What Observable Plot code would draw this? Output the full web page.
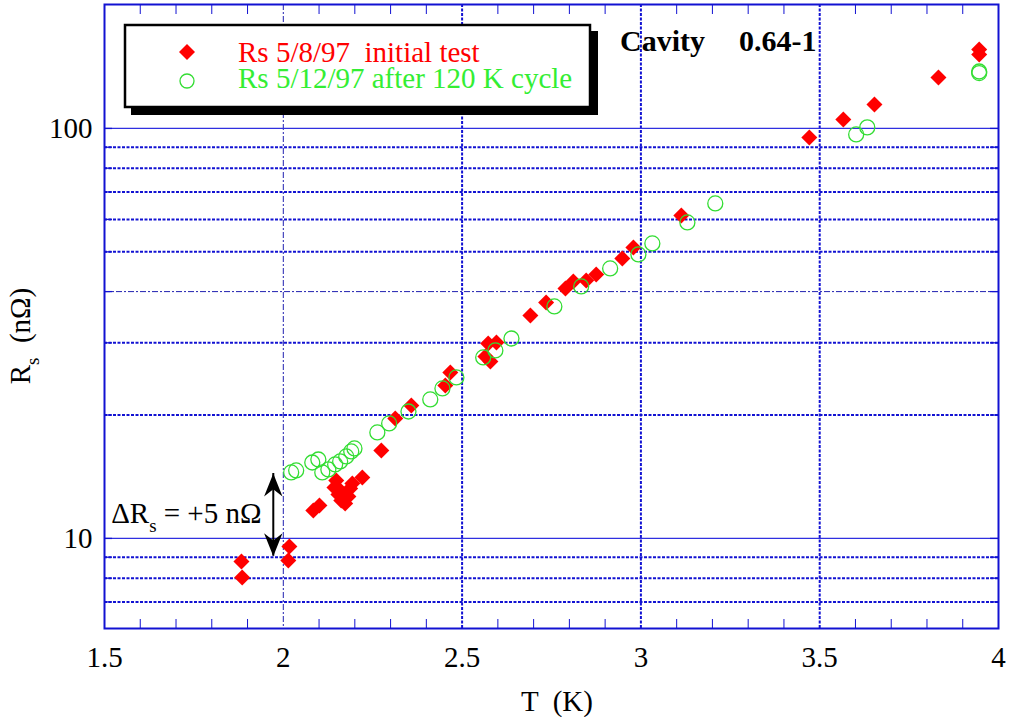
<!DOCTYPE html>
<html><head><meta charset="utf-8">
<script src="https://cdn.jsdelivr.net/npm/d3@7"></script>
<script src="https://cdn.jsdelivr.net/npm/@observablehq/plot@0.6"></script>
<style>
body{margin:0;background:#fff;}
#chart{width:1013px;height:717px;}
</style></head><body><div id="chart"></div>
<script>
// ---- data ----
const initialT = [1.883,1.885,2.017,2.014,2.084,2.101,2.148,2.143,2.154,2.162,2.173,2.182,2.187,2.193,2.159,2.221,2.274,2.313,2.358,2.453,2.467,2.573,2.596,2.565,2.579,2.691,2.735,2.789,2.811,2.847,2.875,2.948,2.979,3.113,3.471,3.566,3.653,3.832,3.946,3.946];
const initialR = [8.79,8.03,9.56,8.84,11.70,12.04,13.85,13.32,12.80,12.38,12.17,12.66,13.24,13.62,13.09,14.09,16.39,19.62,21.11,23.62,25.41,29.89,30.06,27.79,27.02,34.99,37.63,40.71,42.35,42.58,44.04,48.19,51.27,61.34,95.07,105.2,114.4,133.2,155.8,151.5];
const cycledT = [2.022,2.036,2.081,2.098,2.109,2.126,2.145,2.159,2.176,2.190,2.199,2.263,2.296,2.350,2.411,2.445,2.484,2.559,2.593,2.638,2.758,2.833,2.914,2.993,3.032,3.130,3.208,3.602,3.633,3.946,3.946];
const cycledR = [14.49,14.65,15.32,15.58,14.49,14.73,15.15,15.41,15.85,16.30,16.58,18.14,19.08,20.40,21.83,23.22,24.70,27.64,28.74,30.74,36.81,41.17,45.55,49.28,52.43,58.99,65.63,96.7,100.6,137.7,136.5];
const seriesNames = ["Rs 5/8/97  initial test", "Rs 5/12/97 after 120 K cycle"];
const xTickLabels = [1.5,2,2.5,3,3.5,4];
const yTickLabels = [10,100];
const xMinorTicks = [1.6,1.7,1.8,1.9,2.1,2.2,2.3,2.4,2.6,2.7,2.8,2.9,3.1,3.2,3.3,3.4,3.6,3.7,3.8,3.9];
const yTicks = [7,8,9,10,20,30,40,50,60,70,80,90,100];
const gridSolidY = [10,100];
const gridDottedY = [7,8,9,20,30,50,60,70,80,90];
const gridThinY = [40];
const gridDottedX = [2.5,3,3.5];
const gridThinX = [2];
const annotT = [1.972];
const annotR = [9.05,14.4];
const annotText = ["ΔR","s"," = +5 nΩ"];
const titleText = ["Cavity","0.64-1"];
const xLabel = "T  (K)";
const yLabel = ["R","s","  (nΩ)"];

// ---- build ----
const FONT = '"Liberation Serif", Tinos, "Times New Roman", "DejaVu Serif", serif';
const W=1013,H=717,mL=104,mR=15,mT=4,mB=89;
const innerW=W-mL-mR, innerH=H-mT-mB;
const blue="#1212d2", red="#ff0000", green="#33dd33";
const initial = initialT.map((t,i)=>({T:t,R:initialR[i]}));
const cycled = cycledT.map((t,i)=>({T:t,R:cycledR[i]}));
const diamond = {draw(ctx,size){const h=Math.sqrt(size/Math.PI);ctx.moveTo(0,-h);ctx.lineTo(h,0);ctx.lineTo(0,h);ctx.lineTo(-h,0);ctx.closePath();}};
const headUp = {draw(ctx,size){const s=Math.sqrt(size/Math.PI);ctx.moveTo(0,0);ctx.lineTo(0.4*s,s);ctx.lineTo(0,0.68*s);ctx.lineTo(-0.4*s,s);ctx.closePath();}};
const headDown = {draw(ctx,size){const s=Math.sqrt(size/Math.PI);ctx.moveTo(0,0);ctx.lineTo(0.4*s,-s);ctx.lineTo(0,-0.68*s);ctx.lineTo(-0.4*s,-s);ctx.closePath();}};
const F = 29;

const chart = Plot.plot({
  width:W,height:H,marginLeft:mL,marginRight:mR,marginTop:mT,marginBottom:mB,
  style:{fontFamily:FONT,background:"#fff",color:"#000"},
  x:{domain:[1.5,4]},
  y:{type:"log",domain:[6.03,200.6]},
  marks:[
    Plot.ruleY(gridDottedY,{stroke:blue,strokeWidth:2,strokeDasharray:"3,1.5"}),
    Plot.ruleX(gridDottedX,{stroke:blue,strokeWidth:2,strokeDasharray:"3,1.5"}),
    Plot.ruleY(gridThinY,{stroke:"#2020b0",strokeWidth:1,strokeDasharray:"6,2,2,2"}),
    Plot.ruleX(gridThinX,{stroke:"#2020b0",strokeWidth:1,strokeDasharray:"6,2,2,2"}),
    Plot.ruleY(gridSolidY,{stroke:"#3030e0",strokeWidth:1.3}),
    Plot.ruleX(xMinorTicks,{stroke:blue,strokeWidth:1,insetTop:innerH-9}),
    Plot.ruleX(xMinorTicks,{stroke:blue,strokeWidth:1,insetBottom:innerH-10}),
    Plot.ruleY(yTicks,{stroke:blue,strokeWidth:1.3,insetRight:innerW-8}),
    Plot.ruleY(yTicks,{stroke:blue,strokeWidth:1.3,insetLeft:innerW-8}),
    Plot.frame({stroke:blue,strokeWidth:2}),
    Plot.axisX({ticks:xTickLabels,tickSize:0,tickPadding:18,fontSize:F,fontFamily:FONT,tickFormat:d=>String(d),label:null}),
    Plot.axisY({ticks:yTickLabels,tickSize:0,tickPadding:12,fontSize:F,fontFamily:FONT,tickFormat:d=>String(d),label:null}),
    Plot.dot(initial,{x:"T",y:"R",symbol:diamond,r:8,fill:red,stroke:"none"}),
    Plot.dot(cycled,{x:"T",y:"R",r:7.5,fill:"none",stroke:green,strokeWidth:1.3}),
    Plot.ruleX(annotT,{y1:annotR[0],y2:annotR[1],stroke:"#000",strokeWidth:2}),
    Plot.dot(annotT,{x:d=>d,y:annotR[1],symbol:headUp,r:23,fill:"#000",stroke:"none"}),
    Plot.dot(annotT,{x:d=>d,y:annotR[0],symbol:headDown,r:23,fill:"#000",stroke:"none"})
  ]
});
document.getElementById("chart").appendChild(chart);
const svg = d3.select(chart);
svg.attr("font-family",FONT);
const xs = chart.scale("x"), ys = chart.scale("y");

// annotation text
const at = svg.append("text").attr("x",xs.apply(1.52)).attr("y",ys.apply(10.88)).attr("text-anchor","start").attr("font-family",FONT).attr("font-size",F).attr("fill","#000");
at.append("tspan").text(annotText[0]);
at.append("tspan").attr("font-size",F*0.65).attr("dy",9).text(annotText[1]);
at.append("tspan").attr("dy",-9).text(annotText[2]);

// axis labels
svg.append("text").attr("x",(mL+W-mR)/2+6).attr("y",711).attr("text-anchor","middle").attr("font-family",FONT).attr("font-size",F).text(xLabel);
const yl = svg.append("text").attr("transform","translate(30,336) rotate(-90)").attr("text-anchor","middle").attr("font-family",FONT).attr("font-size",F);
yl.append("tspan").text(yLabel[0]);
yl.append("tspan").attr("font-size",F*0.65).attr("dy",9).text(yLabel[1]);
yl.append("tspan").attr("dy",-9).text(yLabel[2]);

// title
const tt = svg.append("text").attr("y",51).attr("text-anchor","start").attr("font-family",FONT).attr("font-size",30).attr("font-weight","bold");
tt.append("tspan").attr("x",620).text(titleText[0]);
tt.append("tspan").attr("x",739).text(titleText[1]);

// legend
const lg = svg.append("g");
lg.append("rect").attr("x",131).attr("y",31).attr("width",467).attr("height",84).attr("fill","#000");
lg.append("rect").attr("x",125).attr("y",25).attr("width",465).attr("height",82).attr("fill","#fff").attr("stroke","#000").attr("stroke-width",2.5);
lg.append("path").attr("d","M187,44L195,52L187,60L179,52Z").attr("fill",red);
lg.append("circle").attr("cx",187).attr("cy",81).attr("r",7).attr("fill","none").attr("stroke",green).attr("stroke-width",1.3);
lg.append("text").attr("x",238).attr("y",62).attr("text-anchor","start").attr("font-family",FONT).attr("font-size",F).attr("fill",red).text(seriesNames[0]);
lg.append("text").attr("x",238).attr("y",88).attr("text-anchor","start").attr("font-family",FONT).attr("font-size",F).attr("fill","#33ee33").text(seriesNames[1]);
</script></body></html>
